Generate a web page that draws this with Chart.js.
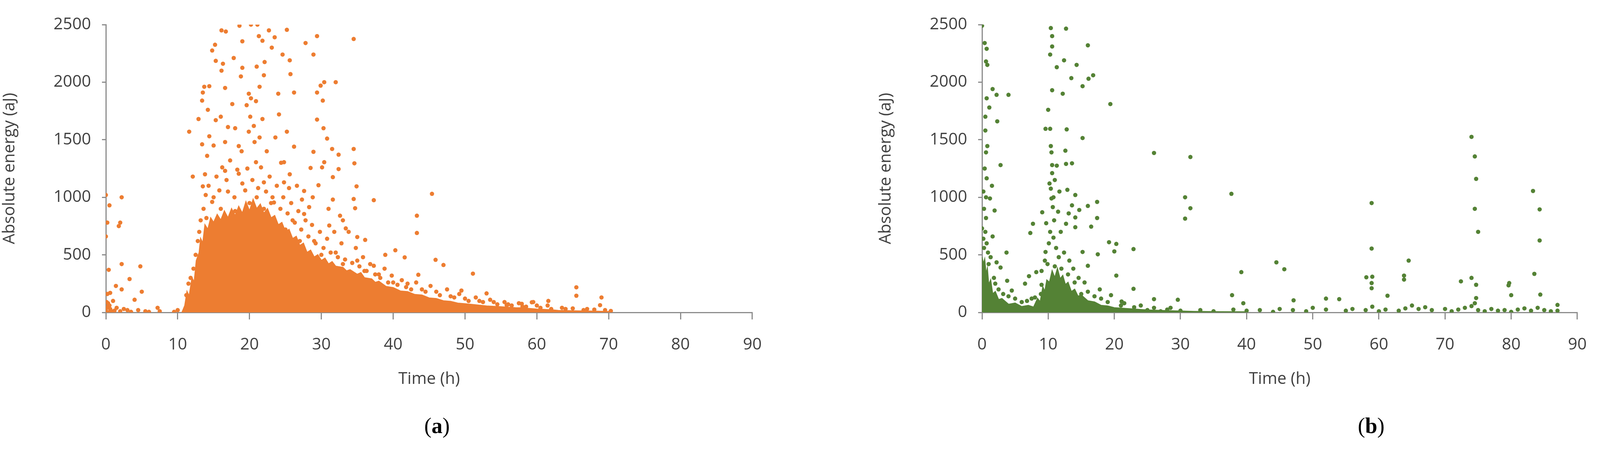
<!DOCTYPE html>
<html>
<head>
<meta charset="utf-8">
<script src="https://cdn.jsdelivr.net/npm/chart.js@4/dist/chart.umd.min.js"></script>
<style>
  body { margin: 0; background: #fff; width: 4123px; height: 1160px; position: relative; overflow: hidden; }
  .pan { position: absolute; top: 0; height: 1160px; }
  .cap { position: absolute; top: 1058px; font: 56px "Liberation Serif", serif; }
</style>
</head>
<body>
<div class="pan" style="left:0;width:1990px"><canvas id="grA"></canvas></div>
<div class="pan" style="left:2243px;width:1859px"><canvas id="grB"></canvas></div>
<div class="cap" style="left:1086px">(<b>a</b>)</div>
<div class="cap" style="left:3476px">(<b>b</b>)</div>
<script>
// Tick labels
var xTicks = [0, 10, 20, 30, 40, 50, 60, 70, 80, 90];
var yTicks = [0, 500, 1000, 1500, 2000, 2500];

// (a) dense core outline (Time h, energy aJ)
var coreA = [[10.6,0],[11,60],[11.3,180],[11.6,140],[12,300],[12.3,260],[12.6,450],[13,520],[13.2,640],[13.5,600],[13.8,760],
  [14.2,720],[14.6,820],[15,780],[15.5,850],[16,800],[16.5,880],[17,820],[17.5,900],[18,840],[18.5,920],[19,860],[19.5,960],
  [20,880],[20.5,980],[21,900],[21.5,940],[22,860],[22.5,900],[23,820],[23.5,840],[24,760],[24.5,780],[25,700],[25.5,720],
  [26,640],[26.5,660],[27,580],[27.5,600],[28,520],[28.5,540],[29,480],[29.5,500],[30,450],[30.5,470],[31,420],[31.5,440],
  [32,400],[33,390],[33.5,360],[34,370],[35,330],[35.5,345],[36,300],[37,290],[37.5,260],[38,270],[39,225],[40,215],
  [41,185],[42,180],[43,155],[44,150],[45,125],[46,120],[47,100],[48,95],[49,80],[50,75],[52,62],[53,55],[55,48],
  [57,40],[58,38],[60,28],[62,22],[63,16],[66,12],[68,10],[70,7],[70.5,0]];
// (a) scattered points
var ptsA = [[0,1020],[0.5,930],[0.2,780],[0,660],[0.4,370],[2.2,1000],[2,780],[1.8,750],[2.2,420],[4.8,400],[3.3,290],[1.4,230],
  [2.2,200],[0.2,160],[0.6,170],[5,180],[1,100],[4,110],[0.3,80],[0.5,60],[0.1,40],[1.5,40],[2.5,30],[3,20],[4.5,20],[5.5,10],
  [7.2,40],[6,5],[7.5,10],[9.5,5],[10,20],[0,20],[0.8,10],[0.1,90],[0.3,50],[0.6,30],[1.2,15],[2,10],[0,0],[0.4,0],[3.5,5],
  [16.1,2450],[16.7,2440],[18.6,2490],[20.2,2500],[21.1,2500],[22.7,2450],[25.2,2455],[29.4,2400],[34.5,2375],[27.8,2340],
  [15.2,2325],[14.8,2275],[19,2355],[21.3,2400],[21.8,2360],[23.5,2390],[23.1,2300],[24.6,2240],[25.6,2190],[28.9,2240],
  [17.8,2210],[15.3,2185],[16.3,2160],[19,2125],[21,2135],[22.1,2175],[22,2060],[25.7,2070],[18.8,2050],[16.1,2100],
  [30.4,2000],[32,2000],[29.9,1970],[13.7,1960],[14.4,1965],[21.4,1960],[26.2,1910],[24,1900],[29.4,1910],[30.2,1840],
  [13.5,1910],[16.6,1950],[19.9,1900],[20.2,1860],[20.9,1835],[17.6,1810],[13.4,1840],[14.2,1760],[24.1,1720],[12.9,1680],
  [15.3,1670],[21.8,1680],[29.4,1675],[30.3,1600],[25.2,1570],[11.6,1570],[19.9,1570],[17,1610],[14.4,1530],[16.6,1480],
  [30.8,1510],[26.2,1440],[34.5,1420],[13.4,1460],[18.5,1445],[31.5,1420],[28.9,1395],[32.4,1370],[14.1,1360],[30.4,1305],
  [34.6,1295],[24.8,1305],[20.9,1305],[28.5,1255],[16.6,1230],[18.5,1205],[12.1,1180],[30.1,1260],[32.4,1245],[31.6,1175],
  [29.6,1105],[34.9,1095],[22,1130],[24.8,1130],[13.5,1095],[27.6,1055],[25.5,1080],[45.4,1030],[37.3,975],[31.6,980],
  [34.5,985],[34.7,905],[43.3,840],[32.6,840],[43.3,690],[40.3,540],[45.9,457],[41.6,478],[47,412],[51.1,337],[43.5,327],
  [65.5,218],[65.5,145],[69,130],[61.6,100],[53,165],[38.9,500],[37.3,405],[36.1,630],[35,655],[31.1,755],[33.4,730],
  [28.3,915],[23.4,955],[27.6,855],[49.5,190],[59.3,88],[57.9,75],[55.8,63],[68.8,63],[70.3,13],
  [14,820],[16,900],[18,880],[20,950],[22,900],[25,720],[27,620],[30,500],[33,420],[36,360],[40,260],[44,200],[48,140],
  [52,100],[56,70],[60,60],[64,30],[67,30],[12.5,500],[11.8,300],[15,1000],[17,1050],[19,1120],[21,1000],[23,950],
  [26,800],[29,620],[32,520],[35,450],[38,330],[42,250],[46,180],[50,120],[54,90],[58,50],[62,30],[11.2,150],[13,700],
  // extra speckle around the dense cloud
  [13.2,800],[13.6,900],[13.9,1020],[14.3,1100],[14.8,960],[15.4,1180],[15.8,1060],[16.2,1260],[16.8,1150],[17.3,1320],
  [17.9,1000],[18.3,1240],[18.9,1400],[19.4,1060],[19.7,1250],[20.1,1700],[20.4,1150],[20.7,1480],[21.2,1080],[21.6,1260],
  [22.3,1050],[22.8,1180],[23.2,1000],[23.8,1100],[24.3,900],[24.7,1000],[25.3,860],[25.8,950],[26.3,780],[26.8,880],
  [27.2,720],[27.8,800],[28.2,660],[28.7,760],[29.2,600],[29.8,700],[30.3,560],[30.8,640],[31.3,520],[31.8,700],
  [32.3,480],[32.8,600],[33.3,460],[33.8,700],[34.3,430],[34.8,560],[35.3,400],[35.8,480],[36.3,360],[36.8,420],
  [37.5,330],[38.2,300],[38.8,380],[39.3,260],[39.8,320],[40.6,240],[41.2,280],[41.8,220],[42.5,200],[43.2,260],
  [44.5,180],[45.2,230],[46.5,150],[47.5,200],[48.5,130],[49.2,160],[50.5,100],[51.5,130],[52.5,90],[53.5,110],
  [54.5,70],[55.5,90],[56.5,60],[57.5,80],[58.5,50],[59.5,90],[60.5,40],[61.5,60],[63.5,40],[65,35],[66.5,20],
  [68,25],[69.5,20],[11.5,250],[12.2,380],[12.8,620],[13.8,1200],[15,1450],[16,1700],[18,1600],[19.6,1800],[20.6,1620],
  [21.4,1520],[22.4,1400],[23.6,1520],[24.4,1300],[25.6,1200],[26.6,1100],[27.3,980],[28.8,1000],[31,900],[33,800]];

// (b) dense core outline
var coreB = [[0,0],[0,480],[0.2,420],[0.4,460],[0.6,330],[0.8,380],[1,240],[1.3,280],[1.6,160],[2,180],[2.5,110],[3,120],
  [4,70],[5,80],[6,50],[7,60],[7.8,45],[8.4,120],[8.8,90],[9.2,220],[9.5,180],[9.8,280],[10.2,260],[10.6,360],[11,300],
  [11.4,380],[11.8,290],[12.2,320],[12.6,240],[13,260],[13.5,180],[14,200],[14.5,140],[15,150],[16,100],[17,90],[18,60],
  [19,55],[20,40],[22,32],[25,20],[28,14],[32,8],[36,5],[40,4],[40,0]];
// (b) scattered points
var ptsB = [[0,2490],[0.4,2340],[0.7,2290],[0.6,2180],[0.8,2150],[1.6,1940],[2.2,1890],[4,1890],[0.7,1860],[1.1,1780],[0.5,1700],
  [2.3,1660],[0.5,1580],[0.8,1445],[0.6,1390],[2.8,1280],[0.7,1165],[1.5,1100],[1.2,990],[1.9,885],[0.6,820],[0,730],[1.6,660],
  [0.7,600],[3.7,520],[2.2,435],[2.8,390],[3.8,275],[4.5,190],
  [10.4,2470],[12.7,2465],[10.6,2400],[16,2320],[10.6,2310],[10.3,2240],[12.4,2190],[14.3,2150],[11.3,2130],[13.5,2035],
  [16.1,2030],[16.8,2060],[15.2,1965],[10.6,1930],[12.2,1900],[19.4,1810],[10,1760],[9.6,1595],[10.3,1595],[12.8,1590],
  [15.2,1515],[10.4,1445],[12.6,1405],[10.5,1390],[26,1385],[31.5,1350],[10.6,1280],[11.3,1275],[12.7,1290],[13.6,1295],
  [10.6,1210],[10.2,1120],[10.4,1075],[12.9,1065],[11.7,1050],[14.1,1020],[37.7,1030],[30.7,1000],[58.9,950],[10.5,990],
  [17.4,960],[10.7,915],[13.6,930],[16,925],[31.5,905],[11.5,875],[14.7,890],[9.1,870],[13.1,860],[17.4,820],[30.7,815],
  [14.1,825],[10.9,800],[7.7,770],[9.7,775],[12.7,770],[14.1,740],[16.5,745],[7.3,690],[11.9,700],[19.2,610],[20.3,595],
  [20,530],[22.9,550],[17.5,505],[15.2,525],[9.6,525],[9,360],[8.2,350],[7.1,315],[6.5,250],[20.3,320],[22.9,205],[16,405],
  [58.9,555],[74,1525],[74.5,1355],[74.7,1160],[74.5,900],[75,700],[83.3,1055],[84.3,895],[84.3,625],[83.5,335],[84.4,155],
  [64.5,450],[44.5,435],[45.7,375],[39.2,350],[37.8,150],[58.1,305],[59,310],[58.9,255],[58.9,210],[63.8,320],[63.8,285],
  [72.4,270],[74,300],[74.7,240],[79.7,255],[79.6,235],[80,150],[61.3,145],[47.1,105],[52,120],[54,115],[29.6,110],[26,115],
  [21.1,95],[39.5,80],[74.7,125],[87,65],
  [25,20],[28,25],[30,15],[33,20],[35,10],[38,25],[40,15],[42,20],[44,5],[45,30],[47,20],[49,10],[50,40],[52,25],[55,15],
  [56,30],[58,20],[59,50],[60,10],[61,25],[63,15],[64,35],[65,60],[66,30],[67,45],[68,20],[70,30],[71,10],[72,25],[73,40],
  [74,55],[74.5,80],[75,20],[76,10],[77,30],[78,15],[79,20],[80,5],[81,25],[82,35],[83,15],[84,40],[85,20],[86,10],[87,15],
  [15,160],[17,140],[19,90],[21,60],[23,45],[26,40],[27,10],[1,420],[0.3,560],[2.5,200],[5,120],[6,90],[8,130],[9,240],
  [11,400],[12,380],[13,330],[14,260],[16,180],[18,120],
  // extra speckle near the two dense spots
  [0.2,640],[0.5,700],[0.3,900],[0.6,1000],[0.9,520],[1.3,480],[0.4,1250],[0.2,1050],[1.8,300],[3.2,160],[4,140],[2,250],
  [9.5,450],[10.1,600],[10.8,650],[11.2,560],[11.6,480],[12.4,520],[13.2,450],[13.8,380],[14.6,300],[15.5,260],[10.3,700],
  [10.8,1000],[11,1150],[9.9,420],[8.9,160],[7.5,120],[6.8,100],[17.8,200],[19.5,150],[21.5,80],[24,60],[28.5,40]];

function toXY(arr) { return arr.map(function (p) { return { x: p[0], y: p[1] }; }); }

// Costruisce un grafico con nuvola densa + punti sparsi
function creaGrafico(id, core, pts, colore) {
  var font = { family: '"Open Sans", sans-serif', size: 42 };
  return new Chart(document.getElementById(id).getContext('2d'), {
    type: 'scatter',
    data: {
      datasets: [
        { type: 'line', data: toXY(core), backgroundColor: colore, borderColor: colore, borderWidth: 3,
          pointRadius: 0, fill: 'origin', tension: 0 },
        { data: toXY(pts), backgroundColor: colore, borderWidth: 0, pointRadius: 5.5 }
      ]
    },
    options: {
      responsive: false, animation: false, maintainAspectRatio: false,
      layout: { padding: { left: 0, right: 41, top: 63, bottom: 160 } },
      plugins: { legend: { display: false }, tooltip: { enabled: false } },
      scales: {
        x: {
          type: 'linear', min: 0, max: 90,
          afterBuildTicks: function (s) { s.ticks = xTicks.map(function (v) { return { value: v }; }); },
          afterFit: function (s) { s.height = 200; },
          grid: { drawOnChartArea: false, color: '#8c8c8c', tickLength: 18, lineWidth: 3 },
          border: { color: '#8c8c8c', width: 3 },
          ticks: { font: font, color: '#404040', padding: 40, maxRotation: 0, callback: function (v) { return String(v); } },
          title: { display: true, text: 'Time (h)', font: font, color: '#404040', padding: { top: 36 } }
        },
        y: {
          min: 0, max: 2500,
          afterBuildTicks: function (s) { s.ticks = yTicks.map(function (v) { return { value: v }; }); },
          afterFit: function (s) { s.width = 271; },
          grid: { drawOnChartArea: false, color: '#8c8c8c', tickLength: 10, lineWidth: 3 },
          border: { color: '#8c8c8c', width: 3 },
          ticks: { font: font, color: '#404040', padding: 28, callback: function (v) { return String(v); } },
          title: { display: true, text: 'Absolute energy (aJ)', font: font, color: '#404040', padding: { top: 0, bottom: 0 } }
        }
      }
    }
  });
}

var cA = document.getElementById('grA'); cA.width = 1990; cA.height = 1160;
var cB = document.getElementById('grB'); cB.width = 1859; cB.height = 1160;
creaGrafico('grA', coreA, ptsA, '#ED7D31');
creaGrafico('grB', coreB, ptsB, '#548235');
</script>
</body>
</html>
